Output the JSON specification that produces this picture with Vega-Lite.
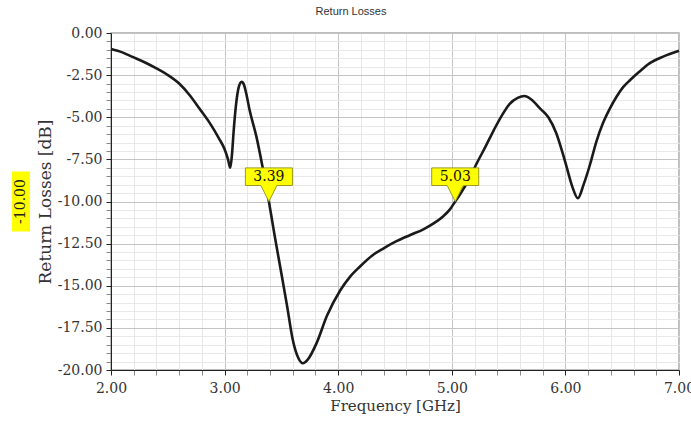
{
  "$schema": "https://vega.github.io/schema/vega-lite/v6.json",
  "width": 568,
  "height": 337,
  "autosize": "none",
  "padding": {"left": 111, "top": 33, "right": 12, "bottom": 52},
  "background": "white",
  "config": {
    "view": {"stroke": "#a8a8a8", "strokeWidth": 1.5},
    "axis": {
      "labelFont": "DejaVu Serif",
      "labelFontSize": 14,
      "labelColor": "#333333",
      "titleFont": "DejaVu Serif",
      "titleFontWeight": "normal",
      "titleColor": "#333333",
      "domainColor": "#222222",
      "tickColor": "#444444",
      "labelOverlap": false,
      "labelFlush": false
    }
  },
  "title": {
    "text": "Return Losses",
    "font": "Liberation Sans",
    "fontSize": 11,
    "fontWeight": "normal",
    "color": "#333333",
    "anchor": "middle",
    "frame": "group",
    "dx": -44,
    "offset": 9
  },
  "datasets": {
    "curve": [
      {"f": 2.00, "rl": -0.95},
      {"f": 2.10, "rl": -1.15},
      {"f": 2.19, "rl": -1.42},
      {"f": 2.30, "rl": -1.75},
      {"f": 2.40, "rl": -2.1},
      {"f": 2.49, "rl": -2.45},
      {"f": 2.60, "rl": -3.0},
      {"f": 2.70, "rl": -3.75},
      {"f": 2.78, "rl": -4.5},
      {"f": 2.87, "rl": -5.35},
      {"f": 2.95, "rl": -6.25},
      {"f": 3.00, "rl": -6.9},
      {"f": 3.03, "rl": -7.5},
      {"f": 3.05, "rl": -8.0},
      {"f": 3.065, "rl": -7.2},
      {"f": 3.08, "rl": -5.8},
      {"f": 3.10, "rl": -4.3},
      {"f": 3.125, "rl": -3.2},
      {"f": 3.15, "rl": -2.9},
      {"f": 3.172, "rl": -3.1},
      {"f": 3.19, "rl": -3.58},
      {"f": 3.22, "rl": -4.57},
      {"f": 3.28, "rl": -6.15},
      {"f": 3.33, "rl": -7.8},
      {"f": 3.39, "rl": -10.0},
      {"f": 3.44, "rl": -12.0},
      {"f": 3.49, "rl": -13.9},
      {"f": 3.55, "rl": -16.2},
      {"f": 3.60, "rl": -18.2},
      {"f": 3.65, "rl": -19.3},
      {"f": 3.69, "rl": -19.6},
      {"f": 3.73, "rl": -19.4},
      {"f": 3.81, "rl": -18.4},
      {"f": 3.90, "rl": -16.8},
      {"f": 4.02, "rl": -15.25},
      {"f": 4.10, "rl": -14.5},
      {"f": 4.19, "rl": -13.87},
      {"f": 4.30, "rl": -13.2},
      {"f": 4.40, "rl": -12.78},
      {"f": 4.50, "rl": -12.4},
      {"f": 4.63, "rl": -12.0},
      {"f": 4.75, "rl": -11.65},
      {"f": 4.84, "rl": -11.3},
      {"f": 4.92, "rl": -10.9},
      {"f": 4.98, "rl": -10.5},
      {"f": 5.03, "rl": -10.0},
      {"f": 5.07, "rl": -9.6},
      {"f": 5.15, "rl": -8.7},
      {"f": 5.22, "rl": -7.73},
      {"f": 5.30, "rl": -6.7},
      {"f": 5.37, "rl": -5.76},
      {"f": 5.44, "rl": -4.9},
      {"f": 5.51, "rl": -4.2},
      {"f": 5.58, "rl": -3.85},
      {"f": 5.64, "rl": -3.74},
      {"f": 5.70, "rl": -3.95},
      {"f": 5.78, "rl": -4.5},
      {"f": 5.85, "rl": -5.0},
      {"f": 5.92, "rl": -5.95},
      {"f": 5.97, "rl": -7.0},
      {"f": 6.01, "rl": -7.93},
      {"f": 6.06, "rl": -9.1},
      {"f": 6.11, "rl": -9.81},
      {"f": 6.16, "rl": -9.0},
      {"f": 6.22, "rl": -7.73},
      {"f": 6.27, "rl": -6.5},
      {"f": 6.33, "rl": -5.36},
      {"f": 6.39, "rl": -4.5},
      {"f": 6.45, "rl": -3.78},
      {"f": 6.51, "rl": -3.2},
      {"f": 6.57, "rl": -2.79},
      {"f": 6.65, "rl": -2.3},
      {"f": 6.74, "rl": -1.8},
      {"f": 6.86, "rl": -1.4},
      {"f": 7.00, "rl": -1.05}
    ],
    "markers": [
      {"f": 3.39, "level": -10, "label": "3.39"},
      {"f": 5.03, "level": -10, "label": "5.03"}
    ],
    "level": [
      {"level": -10, "label": "-10.00"}
    ]
  },
  "layer": [
    {
      "data": {"name": "curve"},
      "mark": {"type": "line", "color": "#1a1a1a", "strokeWidth": 2.6, "interpolate": "monotone"},
      "encoding": {
        "x": {
          "field": "f",
          "type": "quantitative",
          "scale": {"domain": [2, 7], "nice": false, "zero": false},
          "axis": {
            "title": "Frequency [GHz]",
            "titleFontSize": 15,
            "titlePadding": 3,
            "tickCount": 500,
            "labelOverlap": false,
            "labelFlush": false,
            "labelBound": false,
            "values": [2, 2.2, 2.4, 2.6, 2.8, 3, 3.2, 3.4, 3.6, 3.8, 4, 4.2, 4.4, 4.6, 4.8, 5, 5.2, 5.4, 5.6, 5.8, 6, 6.2, 6.4, 6.6, 6.8, 7],
            "labelExpr": "abs(datum.value - round(datum.value)) < 0.001 ? format(datum.value, '.2f') : ''",
            "tickSize": 5,
            "labelPadding": 6,
            "gridColor": {"condition": {"test": "abs(datum.value - round(datum.value)) < 0.001", "value": "#c4c4c4"}, "value": "#e8e8e8"},
            "tickColor": {"condition": {"test": "abs(datum.value - round(datum.value)) < 0.001", "value": "#222222"}, "value": "#888888"}
          }
        },
        "y": {
          "field": "rl",
          "type": "quantitative",
          "scale": {"domain": [-20, 0], "nice": false, "zero": false},
          "axis": {
            "title": "Return Losses [dB]",
            "titleFontSize": 17,
            "titlePadding": 3,
            "tickCount": 500,
            "labelOverlap": false,
            "labelFlush": false,
            "labelBound": false,
            "values": [-20, -19.5, -19, -18.5, -18, -17.5, -17, -16.5, -16, -15.5, -15, -14.5, -14, -13.5, -13, -12.5, -12, -11.5, -11, -10.5, -10, -9.5, -9, -8.5, -8, -7.5, -7, -6.5, -6, -5.5, -5, -4.5, -4, -3.5, -3, -2.5, -2, -1.5, -1, -0.5, 0],
            "labelExpr": "abs(datum.value/2.5 - round(datum.value/2.5)) < 0.001 ? (datum.value < 0 ? '-' : '') + format(abs(datum.value), '.2f') : ''",
            "tickSize": 5,
            "labelPadding": 4,
            "gridColor": {"condition": {"test": "abs(datum.value/2.5 - round(datum.value/2.5)) < 0.001", "value": "#c4c4c4"}, "value": "#e8e8e8"},
            "tickColor": {"condition": {"test": "abs(datum.value/2.5 - round(datum.value/2.5)) < 0.001", "value": "#222222"}, "value": "#888888"}
          }
        }
      }
    },
    {
      "data": {"name": "markers"},
      "mark": {"type": "point", "shape": "M-1.47,-2.1H1.47V-1H0.5L0,0L-0.5,-1H-1.47Z", "size": 1024, "filled": true, "fill": "#ffff00", "stroke": "#9a9a20", "strokeWidth": 1, "opacity": 1},
      "encoding": {
        "x": {"field": "f", "type": "quantitative"},
        "y": {"field": "level", "type": "quantitative"}
      }
    },
    {
      "data": {"name": "markers"},
      "mark": {"type": "text", "font": "DejaVu Serif", "fontSize": 14, "dy": -25, "color": "#111111", "baseline": "middle", "align": "center"},
      "encoding": {
        "x": {"field": "f", "type": "quantitative"},
        "y": {"field": "level", "type": "quantitative"},
        "text": {"field": "label"}
      }
    },
    {
      "data": {"name": "level"},
      "mark": {"type": "point", "shape": "M-0.9,-3H0.9V3H-0.9Z", "size": 400, "filled": true, "fill": "#ffff00", "strokeWidth": 0, "opacity": 1},
      "encoding": {
        "x": {"datum": 1.208, "type": "quantitative"},
        "y": {"field": "level", "type": "quantitative"}
      }
    },
    {
      "data": {"name": "level"},
      "mark": {"type": "text", "font": "DejaVu Serif", "fontSize": 14, "angle": 270, "color": "#222222", "baseline": "middle", "align": "center"},
      "encoding": {
        "x": {"datum": 1.208, "type": "quantitative"},
        "y": {"field": "level", "type": "quantitative"},
        "text": {"field": "label"}
      }
    }
  ]
}
